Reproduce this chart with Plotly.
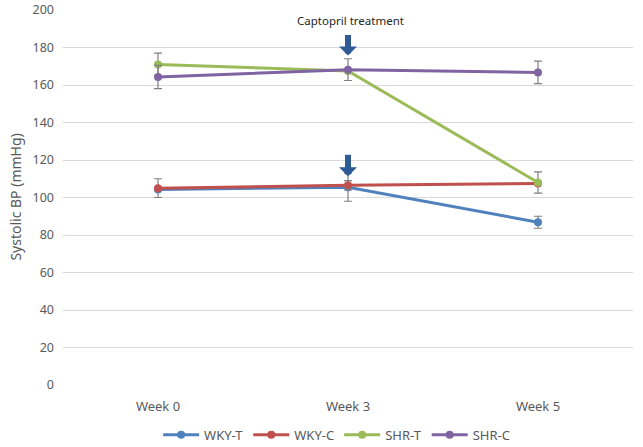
import plotly.graph_objects as go

# values
weeks = ['Week 0', 'Week 3', 'Week 5']
wky_t = [104.3, 105.5, 86.8]
wky_c = [105.0, 106.5, 107.5]
shr_t = [171.0, 167.5, 108.0]
shr_c = [164.3, 168.2, 166.7]
wky_t_err = [0, 7.5, 3.2]
wky_c_err = [5.0, 2.5, 0]
shr_t_err = [6.0, 0, 5.7]
shr_c_err = [6.2, 5.8, 6.0]

names = ['WKY-T', 'WKY-C', 'SHR-T', 'SHR-C']
colors = ['#4F81BD', '#C0504D', '#9BBB59', '#8064A2']
FONT = 'Noto Sans'

fig = go.Figure()
for name, vals, errs, col in zip(names, [wky_t, wky_c, shr_t, shr_c],
                                 [wky_t_err, wky_c_err, shr_t_err, shr_c_err], colors):
    fig.add_trace(go.Scatter(
        x=weeks, y=vals, name=name, mode='lines+markers',
        line=dict(color=col, width=3),
        marker=dict(color=col, size=8),
        error_y=dict(type='data', array=errs, visible=True,
                     color='#7F7F7F', thickness=1.2, width=4),
    ))

# captopril arrows at week 3
arrow_col = '#2E5A96'
for tip, tail in [(175.8, -22), (111.4, -23)]:
    fig.add_annotation(x='Week 3', y=tip, ax=0, ay=tail, text='',
                       showarrow=True, arrowhead=1, arrowwidth=6,
                       arrowsize=0.5, arrowcolor=arrow_col)
fig.add_annotation(x='Week 3', y=194.5, text='Captopril treatment', showarrow=False,
                   xshift=2, font=dict(size=11.5, color='#262626', family=FONT))

# y-axis title placed by hand, like the reference
fig.add_annotation(xref='paper', yref='paper', x=-0.084, y=0.5, text='Systolic BP (mmHg)',
                   textangle=-90, showarrow=False, xanchor='center', yanchor='middle',
                   font=dict(size=14, color='#595959', family=FONT))

fig.update_layout(
    width=643, height=447,
    margin=dict(l=63, r=10, t=9.5, b=61.5, autoexpand=False),
    paper_bgcolor='white', plot_bgcolor='white',
    font=dict(family=FONT, color='#595959', size=12),
    showlegend=True,
    legend=dict(orientation='h', x=0.48, xanchor='center', y=-0.133, yanchor='middle',
                font=dict(size=13, color='#595959'), itemwidth=36),
    xaxis=dict(range=[-0.5, 2.5], showgrid=False, showline=False, zeroline=False, ticks='',
               ticklabelstandoff=12, automargin=False,
               tickfont=dict(size=13, color='#595959')),
    yaxis=dict(range=[0, 200], dtick=20, showgrid=True, gridcolor='#D9D9D9',
               gridwidth=1, zeroline=False, showline=False, ticks='',
               ticklabelstandoff=8, automargin=False,
               tickfont=dict(size=12.5, color='#595959')),
)

# drop the browser's default body margin so the figure fills the window
fig.write_html('out.html', config={'displayModeBar': False},
               post_script="document.body.style.margin='0';")
